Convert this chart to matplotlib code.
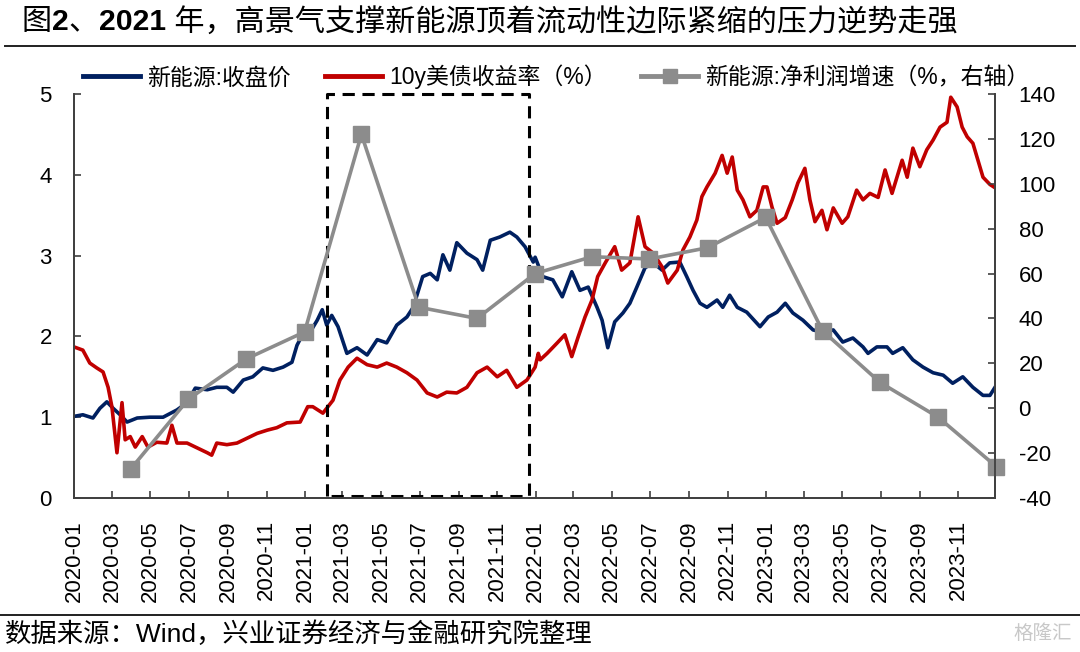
# Import libraries
import pandas as pd
import matplotlib.pyplot as plt
import matplotlib.dates as mdates
from matplotlib.lines import Line2D

# Fonts: Latin from Liberation Sans, CJK falls back to Noto Sans CJK SC
plt.rcParams['font.family'] = ['Liberation Sans', 'Noto Sans CJK SC', 'DejaVu Sans']
plt.rcParams['axes.unicode_minus'] = False

# New energy index close price (left axis)
price_dates = [
    "2020-01-01", "2020-01-15", "2020-01-31", "2020-02-11", "2020-02-22", "2020-03-03",
    "2020-03-14", "2020-03-25", "2020-04-10", "2020-04-30", "2020-05-21", "2020-06-12",
    "2020-06-28", "2020-07-11", "2020-07-30", "2020-08-14", "2020-08-30", "2020-09-09",
    "2020-09-25", "2020-10-10", "2020-10-26", "2020-11-11", "2020-11-27", "2020-12-11",
    "2020-12-19", "2020-12-29", "2021-01-04", "2021-01-20", "2021-01-28", "2021-02-04",
    "2021-02-12", "2021-02-22", "2021-03-08", "2021-03-24", "2021-04-09", "2021-04-25",
    "2021-05-10", "2021-05-26", "2021-06-11", "2021-06-21", "2021-07-06", "2021-07-18",
    "2021-07-29", "2021-08-07", "2021-08-18", "2021-08-29", "2021-09-14", "2021-09-30",
    "2021-10-09", "2021-10-21", "2021-11-05", "2021-11-21", "2021-12-02", "2021-12-15",
    "2021-12-28", "2021-12-31", "2022-01-12", "2022-01-28", "2022-02-12", "2022-02-27",
    "2022-03-12", "2022-03-25", "2022-04-08", "2022-04-16", "2022-04-25", "2022-05-06",
    "2022-05-19", "2022-05-30", "2022-06-10", "2022-06-23", "2022-07-06", "2022-07-20",
    "2022-08-01", "2022-08-17", "2022-08-28", "2022-09-07", "2022-09-18", "2022-09-29",
    "2022-10-15", "2022-10-24", "2022-11-04", "2022-11-16", "2022-12-01", "2022-12-22",
    "2023-01-04", "2023-01-18", "2023-01-31", "2023-02-12", "2023-02-28", "2023-03-16",
    "2023-04-01", "2023-04-17", "2023-05-02", "2023-05-18", "2023-06-03", "2023-06-11",
    "2023-06-25", "2023-07-11", "2023-07-20", "2023-08-05", "2023-08-21", "2023-09-06",
    "2023-09-22", "2023-10-08", "2023-10-23", "2023-11-08", "2023-11-24", "2023-12-10",
    "2023-12-21", "2023-12-29"]
price_values = [
    1.01, 1.03, 0.99, 1.11, 1.19, 1.11,
    1.03, 0.94, 0.99, 1.00, 1.00, 1.09,
    1.18, 1.36, 1.34, 1.37, 1.37, 1.31,
    1.46, 1.50, 1.61, 1.58, 1.62, 1.68,
    1.89, 2.04, 1.99, 2.20, 2.33, 2.14,
    2.26, 2.12, 1.79, 1.86, 1.77, 1.96,
    1.92, 2.14, 2.24, 2.36, 2.74, 2.78,
    2.70, 3.01, 2.82, 3.16, 3.03, 2.95,
    2.82, 3.19, 3.23, 3.29, 3.23, 3.11,
    2.92, 2.98, 2.74, 2.70, 2.49, 2.80,
    2.57, 2.61, 2.36, 2.20, 1.86, 2.18,
    2.29, 2.41, 2.61, 2.85, 2.91, 2.82,
    2.91, 2.92, 2.74, 2.57, 2.41, 2.36,
    2.45, 2.36, 2.51, 2.36, 2.30, 2.12,
    2.24, 2.30, 2.41, 2.29, 2.20, 2.08,
    2.05, 2.08, 1.93, 1.98, 1.87, 1.79,
    1.87, 1.87, 1.79, 1.86, 1.71, 1.62,
    1.55, 1.52, 1.42, 1.50, 1.37, 1.27,
    1.27, 1.37]

# 10y US Treasury yield (%, left axis)
yield_dates = [
    "2020-01-01", "2020-01-15", "2020-01-26", "2020-02-06", "2020-02-16", "2020-02-24",
    "2020-03-01", "2020-03-09", "2020-03-17", "2020-03-22", "2020-03-30", "2020-04-07",
    "2020-04-18", "2020-04-27", "2020-05-11", "2020-05-27", "2020-06-04", "2020-06-12",
    "2020-06-28", "2020-07-14", "2020-07-30", "2020-08-06", "2020-08-14", "2020-08-30",
    "2020-09-15", "2020-10-01", "2020-10-17", "2020-11-02", "2020-11-17", "2020-12-03",
    "2020-12-24", "2021-01-05", "2021-01-13", "2021-01-29", "2021-02-14", "2021-02-25",
    "2021-03-10", "2021-03-24", "2021-04-09", "2021-04-25", "2021-05-10", "2021-05-26",
    "2021-06-11", "2021-06-27", "2021-07-13", "2021-07-29", "2021-08-13", "2021-08-29",
    "2021-09-14", "2021-09-30", "2021-10-16", "2021-11-01", "2021-11-16", "2021-12-02",
    "2021-12-18", "2021-12-31", "2022-01-05", "2022-01-08", "2022-01-19", "2022-02-04",
    "2022-02-16", "2022-02-27", "2022-03-09", "2022-03-20", "2022-03-31", "2022-04-09",
    "2022-04-21", "2022-05-06", "2022-05-17", "2022-05-30", "2022-06-12", "2022-06-23",
    "2022-07-06", "2022-07-20", "2022-07-29", "2022-08-13", "2022-08-22", "2022-09-02",
    "2022-09-13", "2022-09-21", "2022-09-29", "2022-10-12", "2022-10-23", "2022-10-31",
    "2022-11-08", "2022-11-16", "2022-11-25", "2022-12-06", "2022-12-17", "2022-12-27",
    "2023-01-02", "2023-01-10", "2023-01-18", "2023-01-31", "2023-02-11", "2023-02-20",
    "2023-03-03", "2023-03-11", "2023-03-19", "2023-03-30", "2023-04-07", "2023-04-17",
    "2023-05-01", "2023-05-10", "2023-05-24", "2023-06-03", "2023-06-14", "2023-06-27",
    "2023-07-08", "2023-07-19", "2023-08-04", "2023-08-12", "2023-08-21", "2023-09-01",
    "2023-09-12", "2023-09-22", "2023-10-03", "2023-10-14", "2023-10-20", "2023-10-30",
    "2023-11-07", "2023-11-15", "2023-11-24", "2023-12-02", "2023-12-10", "2023-12-21",
    "2023-12-29"]
yield_values = [
    1.87, 1.83, 1.67, 1.61, 1.56, 1.37,
    1.13, 0.56, 1.18, 0.72, 0.76, 0.63,
    0.76, 0.63, 0.69, 0.68, 0.90, 0.68,
    0.68, 0.62, 0.56, 0.53, 0.68, 0.66,
    0.68, 0.74, 0.80, 0.84, 0.87, 0.93,
    0.94, 1.13, 1.13, 1.05, 1.21, 1.46,
    1.62, 1.73, 1.65, 1.62, 1.67, 1.62,
    1.55, 1.46, 1.30, 1.25, 1.31, 1.30,
    1.37, 1.55, 1.62, 1.50, 1.58, 1.37,
    1.46, 1.62, 1.79, 1.71, 1.79, 1.92,
    2.02, 1.75, 1.99, 2.24, 2.45, 2.74,
    2.91, 3.11, 2.82, 2.91, 3.48, 3.11,
    3.03, 2.86, 2.66, 2.82, 3.07, 3.23,
    3.44, 3.73, 3.85, 4.02, 4.24, 4.02,
    4.22, 3.81, 3.69, 3.48, 3.56, 3.85,
    3.85, 3.60, 3.40, 3.47, 3.69, 3.90,
    4.08, 3.69, 3.42, 3.56, 3.32, 3.59,
    3.40, 3.48, 3.81, 3.69, 3.77, 3.72,
    4.06, 3.77, 4.18, 3.97, 4.33, 4.10,
    4.31, 4.43, 4.59, 4.65, 4.96, 4.84,
    4.59, 4.47, 4.39, 4.18, 3.97, 3.88,
    3.84]

# New energy net profit growth (%, right axis), quarterly
profit_dates = [
    "2020-03-31", "2020-06-30", "2020-09-30", "2020-12-31",
    "2021-03-31", "2021-06-30", "2021-09-30", "2021-12-31",
    "2022-03-31", "2022-06-30", "2022-09-30", "2022-12-31",
    "2023-03-31", "2023-06-30", "2023-09-30", "2023-12-31"]
profit_values = [
    -27, 4, 22, 34,
    122, 45, 40, 60,
    67.5, 66.5, 71.5, 85,
    34.5, 11.5, -4, -26]

# Highlighted period (dashed box)
box_start = "2021-02-04"
box_end = "2021-12-22"

# Series labels and text
price_label = "新能源:收盘价"
yield_label = "10y美债收益率（%）"
profit_label = "新能源:净利润增速（%，右轴）"
source_text = "数据来源：Wind，兴业证券经济与金融研究院整理"

# Colours
navy = "#002060"
red = "#C00000"
grey = "#8C8C8C"
axis_color = "#404040"

# Create the figure
fig = plt.figure(figsize=(10.8, 6.52), dpi=100)
ax = fig.add_axes([74 / 1080, 1 - 498 / 652, (995 - 74) / 1080, (498 - 94) / 652])
ax2 = ax.twinx()

# Plot the daily series on the left axis
ax.plot(pd.to_datetime(price_dates), price_values, color=navy, linewidth=2.6,
        solid_joinstyle="round")
ax.plot(pd.to_datetime(yield_dates), yield_values, color=red, linewidth=2.6,
        solid_joinstyle="round")

# Dashed box around 2021
bx0 = mdates.date2num(pd.Timestamp(box_start))
bx1 = mdates.date2num(pd.Timestamp(box_end))
ax.plot([bx0, bx0, bx1, bx1, bx0], [0.03, 5.0, 5.0, 0.03, 0.03], color="black",
        linewidth=2.2, linestyle=(0, (4, 2.5)), clip_on=False)

# Plot the quarterly profit growth on the right axis
ax2.plot(pd.to_datetime(profit_dates), profit_values, color=grey, linewidth=2.6,
         marker="s", markersize=11, clip_on=False)

# Axis limits and ticks
ax.set_xlim(pd.Timestamp("2020-01-01"), pd.Timestamp("2023-12-29"))
ax.set_ylim(0, 5)
ax.set_yticks(range(0, 6))
ax2.set_ylim(-40, 140)
ax2.set_yticks(range(-40, 141, 20))
ax.xaxis.set_major_locator(mdates.MonthLocator(bymonth=[1, 3, 5, 7, 9, 11]))
ax.xaxis.set_major_formatter(mdates.DateFormatter("%Y-%m"))

for a in (ax, ax2):
    a.spines["top"].set_visible(False)
    for side in ("left", "right", "bottom"):
        a.spines[side].set_color(axis_color)
        a.spines[side].set_linewidth(1.3)
    a.tick_params(direction="in", length=5, width=1.2, color=axis_color,
                  labelsize=16, labelcolor="black")
ax.tick_params(axis="y", pad=16)
ax2.tick_params(axis="y", pad=17)
ax.tick_params(axis="x", pad=16)
plt.setp(ax.get_xticklabels(), rotation=90)

# Legend
handles = [
    Line2D([], [], color=navy, linewidth=3.5),
    Line2D([], [], color=red, linewidth=3.5),
    Line2D([], [], color=grey, linewidth=3.5, marker="s", markersize=10)]
fig.legend(handles, [price_label, yield_label, profit_label], loc="center",
           bbox_to_anchor=(556 / 1080, 1 - 77 / 652), ncol=3, frameon=False,
           fontsize=16.5, handlelength=2.5, handletextpad=0.3, columnspacing=1.5)

# Title, made of regular and bold pieces
title_parts = [("图", "normal"), ("2", "bold"), ("、", "normal"), ("2021", "bold"),
               (" 年，高景气支撑新能源顶着流动性边际紧缩的压力逆势走强", "normal")]
renderer = fig.canvas.get_renderer()
tx = 22 / 1080
for part, weight in title_parts:
    t = fig.text(tx, 1 - 22 / 652, part, fontsize=21.7, fontweight=weight,
                 va="center", ha="left", color="black")
    bb = t.get_window_extent(renderer=renderer)
    tx = (bb.x1) / 1080

# Rule lines under the title and above the source
fig.add_artist(Line2D([5 / 1080, 1075 / 1080], [1 - 46 / 652, 1 - 46 / 652],
                      color="#202020", linewidth=1.4))
fig.add_artist(Line2D([0, 1], [1 - 615 / 652, 1 - 615 / 652],
                      color="#202020", linewidth=1.4))

# Source note and watermark
fig.text(5 / 1080, 1 - 634 / 652, source_text, fontsize=19, va="center", ha="left")
fig.text(1072 / 1080, 1 - 634 / 652, "格隆汇", fontsize=14, va="center", ha="right",
         color="#C8C8C8")

# Save the plot as a PNG file
plt.savefig("out.png", dpi=100)
